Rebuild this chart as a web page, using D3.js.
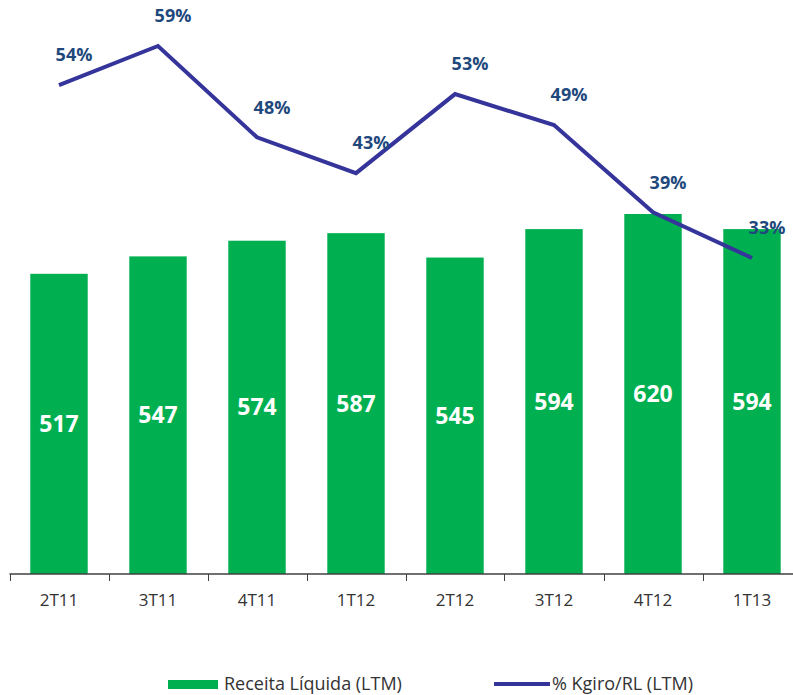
<!DOCTYPE html>
<html>
<head>
<meta charset="utf-8">
<script src="https://cdn.jsdelivr.net/npm/d3@7"></script>
<style>
  body { margin: 0; background: #fff; }
  svg { display: block; font-family: 'Open Sans', Lato, sans-serif; }
</style>
</head>
<body>
<svg id="chart"></svg>
<script>
const quarters = ['2T11', '3T11', '4T11', '1T12', '2T12', '3T12', '4T12', '1T13']
const receita = [517, 547, 574, 587, 545, 594, 620, 594]
const kgiro = [0.542, 0.59, 0.478, 0.434, 0.531, 0.493, 0.386, 0.33]

const width = 793
const height = 695
const baseY = 574

const svg = d3.select('#chart')
  .attr('width', width)
  .attr('height', height)

const x = d3.scaleBand()
  .domain(quarters)
  .range([9.5, 801.5])
  .paddingInner(0.42)
  .paddingOuter(0.21)

const yBar = d3.scaleLinear()
  .domain([0, 620])
  .range([baseY, 214])

const yPct = d3.scaleLinear()
  .domain([0, 0.59])
  .range([527, 46])

// bars
svg.selectAll('rect.bar')
  .data(receita)
  .enter().append('rect')
  .attr('class', 'bar')
  .attr('x', (d, i) => x(quarters[i]))
  .attr('y', d => yBar(d))
  .attr('width', x.bandwidth())
  .attr('height', d => baseY - yBar(d))
  .style('fill', '#00B050')

svg.selectAll('text.barlbl')
  .data(receita)
  .enter().append('text')
  .attr('class', 'barlbl')
  .attr('x', (d, i) => x(quarters[i]) + x.bandwidth() / 2)
  .attr('y', d => (yBar(d) + baseY) / 2)
  .attr('dy', '0.35em')
  .attr('text-anchor', 'middle')
  .style('fill', '#fff')
  .style('font-weight', 'bold')
  .style('font-size', '23px')
  .text(d => d)

// axis line + boundary ticks
svg.append('line')
  .attr('x1', 9.5).attr('x2', width)
  .attr('y1', baseY).attr('y2', baseY)
  .style('stroke', '#404040')
  .style('stroke-width', 1.3)

const bounds = quarters.map(q => x(q) - x.step() * x.paddingInner() / 2)
svg.selectAll('line.tick')
  .data(bounds)
  .enter().append('line')
  .attr('class', 'tick')
  .attr('x1', d => Math.round(d) + 0.5).attr('x2', d => Math.round(d) + 0.5)
  .attr('y1', baseY).attr('y2', baseY + 7)
  .style('stroke', '#404040')

const xAxis = svg.append('g')
  .attr('transform', `translate(0,${baseY})`)
  .call(d3.axisBottom(x).tickSize(0).tickPadding(20))
xAxis.select('.domain').remove()
xAxis.selectAll('text')
  .style('font-family', "'Open Sans', Lato, sans-serif")
  .style('font-size', '17px')
  .style('fill', '#333')

// line
const line = d3.line()
  .x((d, i) => x(quarters[i]) + x.bandwidth() / 2)
  .y(d => yPct(d))

svg.append('path')
  .datum(kgiro)
  .attr('d', line)
  .style('fill', 'none')
  .style('stroke', '#35349A')
  .style('stroke-width', 4)

svg.selectAll('text.pct')
  .data(kgiro)
  .enter().append('text')
  .attr('class', 'pct')
  .attr('x', (d, i) => x(quarters[i]) + x.bandwidth() / 2 + 15)
  .attr('y', d => yPct(d) - 30)
  .attr('dy', '0.35em')
  .attr('text-anchor', 'middle')
  .style('fill', '#1F497D')
  .style('font-weight', 'bold')
  .style('font-size', '18px')
  .text(d => d3.format('.0%')(d))

// legend
svg.append('rect')
  .attr('x', 168).attr('y', 680)
  .attr('width', 50).attr('height', 9)
  .style('fill', '#00B050')
svg.append('text')
  .attr('x', 224).attr('y', 684).attr('dy', '0.35em')
  .style('font-size', '18px').style('fill', '#333')
  .text('Receita Líquida (LTM)')
svg.append('line')
  .attr('x1', 494).attr('x2', 550)
  .attr('y1', 684).attr('y2', 684)
  .style('stroke', '#35349A')
  .style('stroke-width', 4)
svg.append('text')
  .attr('x', 552).attr('y', 684).attr('dy', '0.35em')
  .style('font-size', '18px').style('fill', '#333')
  .text('% Kgiro/RL (LTM)')
</script>
</body>
</html>
